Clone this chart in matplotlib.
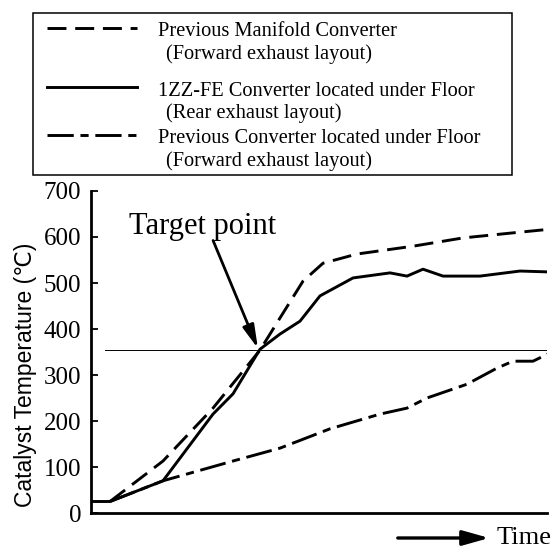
import matplotlib
matplotlib.use("Agg")
import matplotlib.pyplot as plt
from matplotlib.lines import Line2D
from matplotlib.patches import Rectangle

# time axis is arbitrary (no tick labels), temperatures in deg C
t_manifold = [19, 72, 122, 169, 189, 212, 232, 266, 322, 372, 422, 459]
temp_manifold = [25, 113, 228, 354, 424, 504, 543, 563, 580, 598, 609, 617]

t_1zz = [1, 19, 72, 122, 142, 169, 189, 209, 229, 262, 299, 316, 332, 352, 389, 429, 459]
temp_1zz = [25, 25, 70, 215, 259, 356, 389, 417, 472, 511, 522, 515, 530, 515, 515, 526, 524]

t_floor = [19, 72, 142, 189, 239, 289, 316, 336, 376, 406, 422, 442, 459]
temp_floor = [25, 70, 113, 141, 183, 215, 228, 250, 280, 315, 330, 330, 348]

target_temp = 354
target_t = 169

serif = ["Liberation Serif", "DejaVu Serif"]
sans = ["Liberation Sans", "DejaVu Sans"]

fig = plt.figure(figsize=(5.57, 5.48), dpi=100)
ax = fig.add_axes([91/557, 35/548, 456/557, 322/548])

lw = 2.1
ax.plot(t_manifold, temp_manifold, color="black", lw=lw, dashes=(6.5, 3))
ax.plot(t_1zz, temp_1zz, color="black", lw=lw)
ax.plot(t_floor, temp_floor, color="black", lw=lw, dashes=(9, 2.3, 2.8, 2.3))
ax.plot([14, 459], [target_temp, target_temp], color="black", lw=0.7)

ax.set_xlim(0, 456)
ax.set_ylim(0, 700)
ax.set_yticks(range(0, 701, 100))
ax.set_xticks([])
ax.tick_params(axis="y", direction="in", length=5, width=1.3, labelsize=18, pad=7)
for lab in ax.get_yticklabels():
    lab.set_fontfamily(serif)
for s in ["top", "right"]:
    ax.spines[s].set_visible(False)
ax.spines["left"].set_linewidth(2)
ax.spines["bottom"].set_linewidth(2)
ax.set_ylabel("Catalyst Temperature (℃)", fontsize=16.5, family=sans)
ax.yaxis.set_label_coords(-0.118, 0.43)

ax.text(112, 622, "Target point", fontsize=22, family=serif, ha="center", va="center")
ax.annotate("", xy=(target_t - 1, target_temp - 2), xytext=(121, 598),
            arrowprops=dict(arrowstyle="-|>,head_length=1.4,head_width=0.35",
                            color="black", lw=2))

# time arrow below the axis
ax.annotate("", xy=(492/557, 10/548), xytext=(395/557, 10/548),
            xycoords="figure fraction", textcoords="figure fraction",
            arrowprops=dict(arrowstyle="-|>,head_length=1.6,head_width=0.45",
                            color="black", lw=2.4))
fig.text(497/557, 10/548, "Time", fontsize=19, family=serif, ha="left", va="center")

# legend box drawn in figure pixels
W, H = 557, 548
fig.patches.append(Rectangle((33/W, 1 - 175/H), 479/W, 162/H, transform=fig.transFigure,
                             fill=False, edgecolor="black", lw=1.1))
entries = [
    ((6.5, 3), "Previous Manifold Converter", "(Forward exhaust layout)", 28),
    (None, "1ZZ-FE Converter located under Floor", "(Rear exhaust layout)", 87),
    ((9, 2.3, 2.8, 2.3), "Previous Converter located under Floor", "(Forward exhaust layout)", 135),
]
for dash, l1, l2, yp in entries:
    ln = Line2D([47/W, 137/W], [1 - yp/H, 1 - yp/H], transform=fig.transFigure,
                color="black", lw=lw)
    if dash:
        ln.set_dashes(dash)
    fig.lines.append(ln)
    fig.text(158/W, 1 - (yp + 4)/H, l1, fontsize=14.7, family=serif, va="center")
    fig.text(166/W, 1 - (yp + 26)/H, l2, fontsize=14.7, family=serif, va="center")

fig.savefig("out.png", dpi=100)
